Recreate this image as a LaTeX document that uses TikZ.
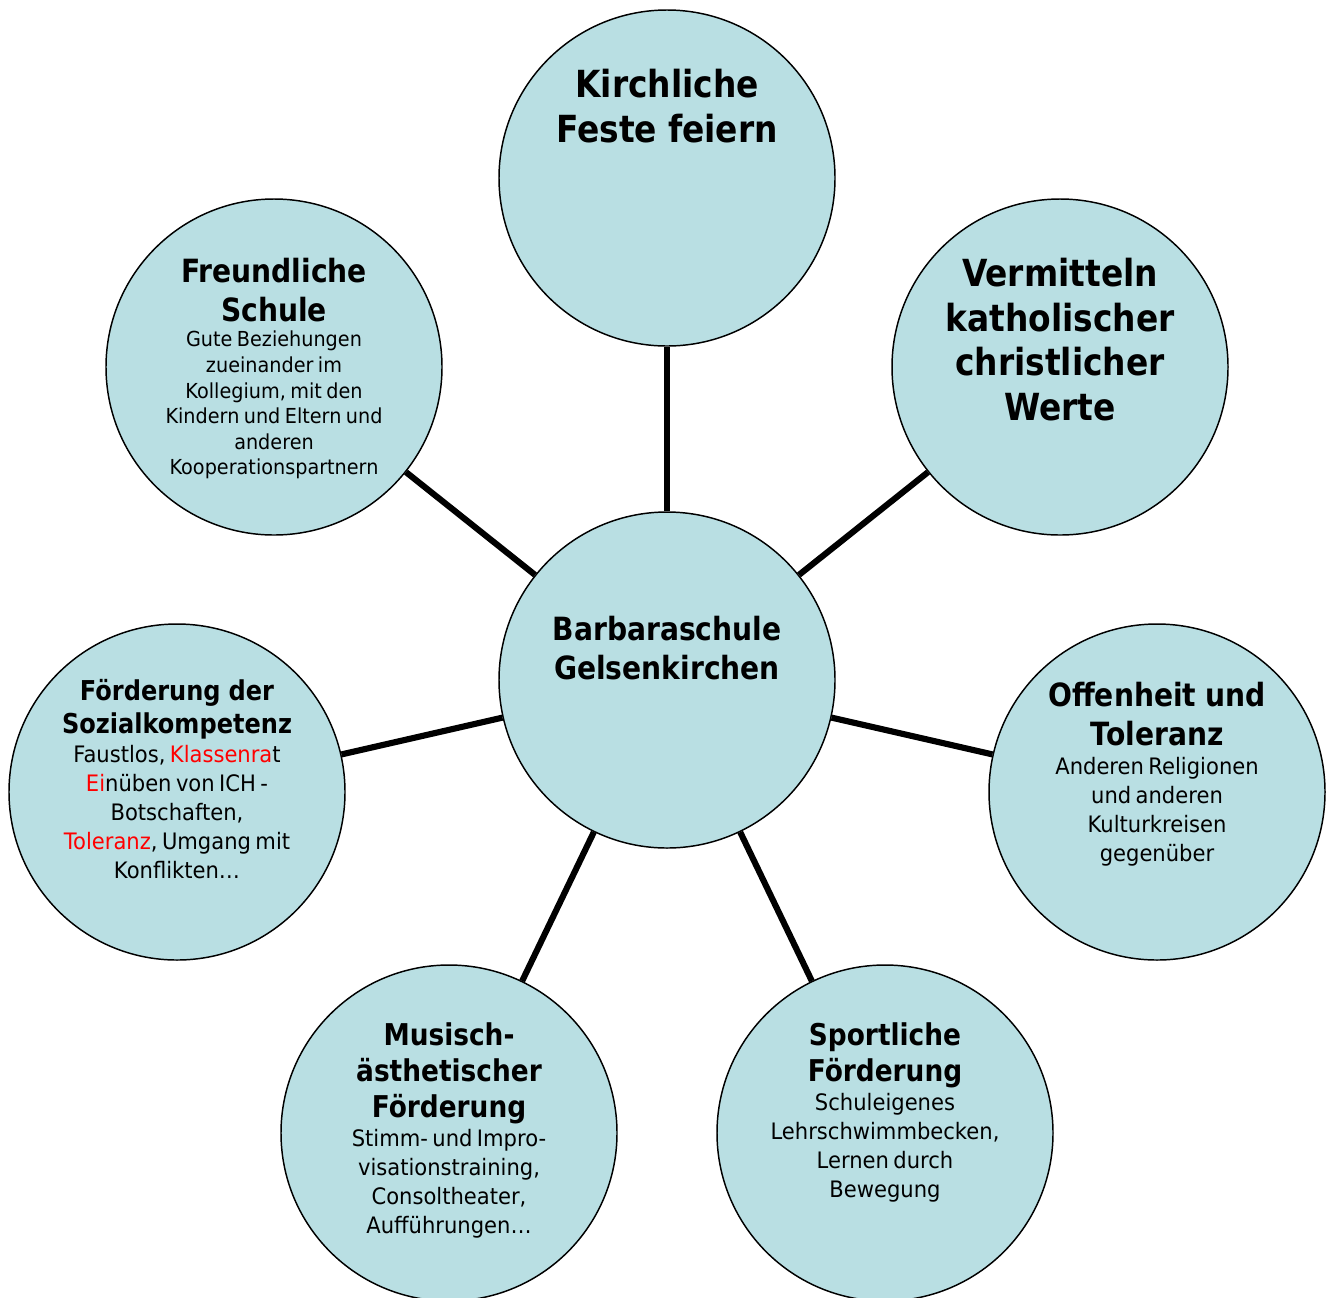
\documentclass[tikz,border=0pt]{standalone}
\usepackage{fontspec}
\setmainfont[FakeStretch=0.93,BoldFeatures={FakeStretch=0.88}]{DejaVu Sans}
\usepackage{xcolor}
\usetikzlibrary{positioning,calc}
\definecolor{topicfill}{RGB}{185,223,227}
\newcommand{\bigtitle}{\bfseries\fontsize{28}{33.4}\selectfont\spaceskip=0.29em\relax}
\newcommand{\midtitle}{\bfseries\fontsize{24}{29}\selectfont\spaceskip=0.29em\relax}
\newcommand{\subtitle}{\bfseries\fontsize{22.5}{27}\selectfont\spaceskip=0.29em\relax}
\newcommand{\smalltitle}{\bfseries\fontsize{20.5}{24.8}\selectfont\spaceskip=0.29em\relax}
\newcommand{\bodytext}{\fontsize{17}{21.8}\selectfont}
\newcommand{\smallbody}{\fontsize{15.5}{19.2}\selectfont}
\tikzset{topic/.style={draw=black,circle,fill=topicfill,line width=1.1pt,minimum size=252pt,inner sep=0pt}}
\tikzset{topictext/.style={anchor=north,align=center,inner sep=0pt,text width=250pt,
  execute at begin node={\parindent=0pt\lineskiplimit=-50pt}}}
\tikzset{link/.style={line width=4.6pt}}

\begin{document}
\begin{tikzpicture}[x=0.75pt, y=-0.75pt]
\useasboundingbox (0,0) rectangle (1333,1297);
    % circles
    \node[topic] (school) at (667,680) {};
    \node[topic] (feste) at (667,178) {};
    \node[topic] (werte) at (1060,367) {};
    \node[topic] (freund) at (274,367) {};
    \node[topic] (sozial) at (177,792) {};
    \node[topic] (offen) at (1157,792) {};
    \node[topic] (musisch) at (449,1133) {};
    \node[topic] (sport) at (885,1133) {};

    \path[link] (school) edge (feste);
    \path[link] (school) edge (werte);
    \path[link] (school) edge (freund);
    \path[link] (school) edge (sozial);
    \path[link] (school) edge (offen);
    \path[link] (school) edge (musisch);
    \path[link] (school) edge (sport);

    % texts
    \node[topictext] (festetext) at (667,69) {\bigtitle Kirchliche\\ Feste feiern\par};
    \node[topictext] (wertetext) at (1060,258) {\bigtitle Vermitteln\\ katholischer\\ christlicher\\ Werte\par};
    \node[topictext] (freundtext) at (274,258) {{\midtitle Freundliche\\ Schule\par}
      {\smallbody Gute Beziehungen\\ zueinander im\\ Kollegium, mit den\\ Kindern und Eltern und\\ anderen\\ Kooperationspartnern\par}};
    \node[topictext] (schooltext) at (667,616) {\midtitle Barbaraschule\\ Gelsenkirchen\par};
    \node[topictext] (sozialtext) at (177,679) {{\smalltitle Förderung der\\ Sozialkompetenz\par}
      {\bodytext Faustlos, \textcolor{red}{Klassenra}t\\ \textcolor{red}{Ei}nüben von ICH -\\ Botschaften,\\ \textcolor{red}{Toleranz}, Umgang mit\\ Konflikten…\par}};
    \node[topictext] (offentext) at (1157,682) {{\midtitle Offenheit und\\ Toleranz\par}
      {\bodytext Anderen Religionen\\ und anderen\\ Kulturkreisen\\ gegenüber\par}};
    \node[topictext] (musischtext) at (449,1022) {{\subtitle Musisch-\\ ästhetischer\\ Förderung\par}
      {\bodytext Stimm- und Impro-\\ visationstraining,\\ Consoltheater,\\ Aufführungen…\par}};
    \node[topictext] (sporttext) at (885,1022) {{\subtitle Sportliche\\ Förderung\par}
      {\bodytext Schuleigenes\\ Lehrschwimmbecken,\\ Lernen durch\\ Bewegung\par}};
\end{tikzpicture}
\end{document}
